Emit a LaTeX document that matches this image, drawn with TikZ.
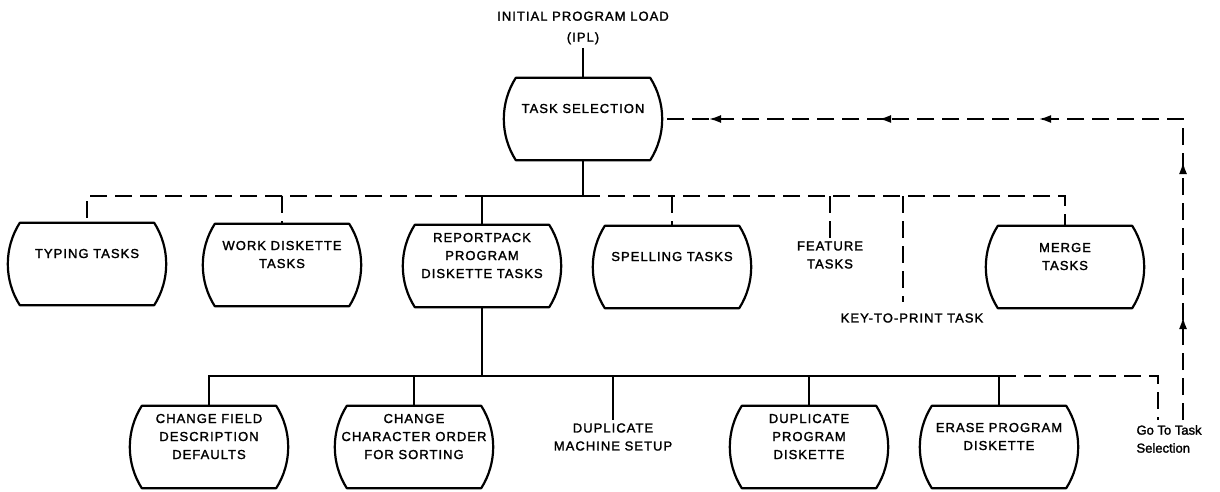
\documentclass[tikz,border=0pt]{standalone}
\usepackage{fontspec}
\setmainfont{Liberation Sans}[FakeBold=1.8]
\newfontfamily\capsfont{Liberation Sans}[LetterSpace=8,FakeBold=1.8]
\usetikzlibrary{arrows.meta,decorations.markings}

% text of a task box, set in the upper part of the box
\newcommand{\tasktext}[1]{\raisebox{6.6pt}[0pt][0pt]{\begin{tabular}{@{}c@{}}#1\end{tabular}}}

\begin{document}
\begin{tikzpicture}[x=1pt,y=-1pt,
    every node/.style={font=\capsfont\fontsize{13}{18}\selectfont},
    task/.style={minimum width=158pt,minimum height=82pt,inner sep=0pt},
    barrel/.style={line width=2.2pt,line join=round},
    conn/.style={line width=1.8pt},
    dline/.style={conn,dash pattern=on 17pt off 8pt},
    back/.style={dline,postaction={decorate},decoration={markings,
        mark=at position 103pt with {\arrow{Latex[length=12pt,width=8pt]}},
        mark=at position 258pt with {\arrow{Latex[length=12pt,width=8pt]}},
        mark=at position 445pt with {\arrow{Latex[length=12pt,width=8pt]}},
        mark=at position 605pt with {\arrow{Latex[length=12pt,width=8pt]}},
        mark=at position 775pt with {\arrow{Latex[length=12pt,width=8pt]}}}}]
    \useasboundingbox (0,0) rectangle (1220,492);

    \node[align=center] (ipl) at (583,28) {INITIAL PROGRAM LOAD\\[3pt](IPL)};
    \node[task] (ts) at (583,119) {\tasktext{TASK SELECTION}};

    \node[task] (typ) at (87,264) {\tasktext{TYPING TASKS}};
    \node[task] (wdk) at (282,265) {\tasktext{WORK DISKETTE\\TASKS}};
    \node[task] (rpk) at (482,266) {\tasktext{REPORTPACK\\PROGRAM\\DISKETTE TASKS}};
    \node[task] (spl) at (672,267) {\tasktext{SPELLING TASKS}};
    \node[align=center] (fea) at (830,255) {FEATURE\\TASKS};
    \node (kpt) at (912,318) {KEY-TO-PRINT TASK};
    \node[task] (mrg) at (1065,267) {\tasktext{MERGE\\TASKS}};

    \node[task] (cfd) at (209,447) {\tasktext{CHANGE FIELD\\DESCRIPTION\\DEFAULTS}};
    \node[task] (cco) at (414,447) {\tasktext{CHANGE\\CHARACTER ORDER\\FOR SORTING}};
    \node[align=center] (dms) at (613,437) {DUPLICATE\\MACHINE SETUP};
    \node[task] (dpd) at (809,447) {\tasktext{DUPLICATE\\PROGRAM\\DISKETTE}};
    \node[task] (era) at (999,447) {\tasktext{ERASE PROGRAM\\DISKETTE}};
    \node[font=\fontsize{13}{18}\selectfont,align=left,anchor=west] (goto) at (1133,439) {Go To Task\\Selection};

    % the barrel outlines
    \foreach \n in {ts,typ,wdk,rpk,spl,mrg,cfd,cco,dpd,era}
      \draw[barrel] ([xshift=12pt]\n.north west) -- ([xshift=-12pt]\n.north east)
        .. controls ([xshift=4pt,yshift=-25pt]\n.north east) and ([xshift=4pt,yshift=25pt]\n.south east) .. ([xshift=-12pt]\n.south east)
        -- ([xshift=12pt]\n.south west)
        .. controls ([xshift=-4pt,yshift=25pt]\n.south west) and ([xshift=-4pt,yshift=-25pt]\n.north west) .. cycle;

    \coordinate (bus2) at (583,196);
    \coordinate (bus3) at (482,376);
    \coordinate (kptc) at (903,302);
    \coordinate (goA) at (1158,420);
    \coordinate (goB) at (1183,420);

    \draw[conn] (ipl.south) -- (ts.north);
    \draw[conn] (ts.south) -- (bus2) -| (rpk.north);
    \draw[dline] (rpk.north |- bus2) -| (wdk.north);
    \draw[dline] (wdk.north |- bus2) -| (typ.north);
    \draw[dline] (bus2) -| (mrg.north);
    \draw[dline] (spl.north |- bus2) -- (spl.north);
    \draw[dline] (fea.north |- bus2) -- (fea.north);
    \draw[dline] (kptc |- bus2) -- (kptc);

    \draw[conn] (rpk.south) -- (bus3);
    \draw[conn] (cfd.north) |- (era.north |- bus3) -- (era.north);
    \draw[conn] (cco.north) -- (cco.north |- bus3);
    \draw[conn] (dms.north) -- (dms.north |- bus3);
    \draw[conn] (dpd.north) -- (dpd.north |- bus3);
    \draw[dline] (era.north |- bus3) -| (goA);
    \draw[back] (goB) |- (ts.east);
\end{tikzpicture}
\end{document}
